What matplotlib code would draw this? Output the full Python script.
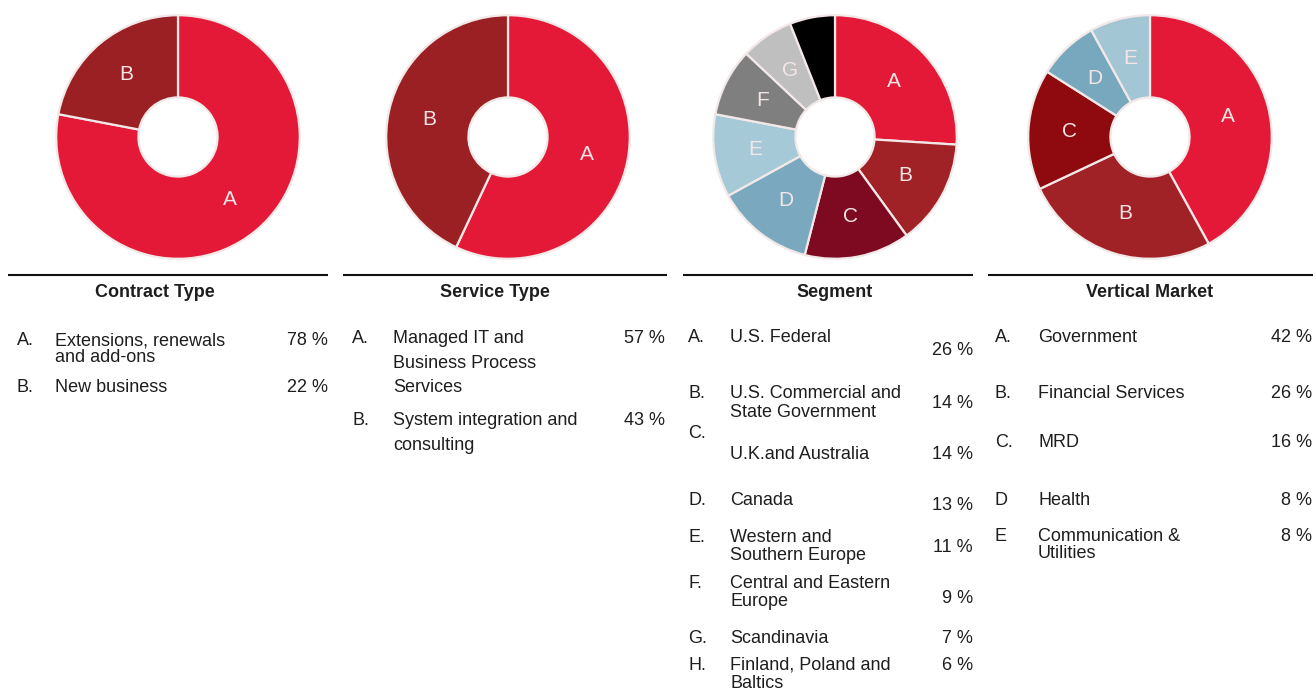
import matplotlib
matplotlib.use("Agg")
import matplotlib.pyplot as plt

# ---------------------------------------------------------------
# Data
#
contract_letters = ["A.", "B."]
contract_names = ["Extensions, renewals\nand add-ons", "New business"]
contract_shares = [78, 22]
contract_colors = ["#E31937", "#9B2024"]

service_letters = ["A.", "B."]
service_names = ["Managed IT and\nBusiness Process\nServices", "System integration and\nconsulting"]
service_shares = [57, 43]
service_colors = ["#E31937", "#9B2024"]

segment_letters = ["A.", "B.", "C.", "D.", "E.", "F.", "G.", "H."]
segment_names = ["U.S. Federal", "U.S. Commercial and\nState Government", "U.K.and Australia",
                 "Canada", "Western and\nSouthern Europe", "Central and Eastern\nEurope",
                 "Scandinavia", "Finland, Poland and\nBaltics"]
segment_shares = [26, 14, 14, 13, 11, 9, 7, 6]
segment_wedge_labels = ["A", "B", "C", "D", "E", "F", "G", ""]
segment_colors = ["#E31937", "#A02226", "#7E0A22", "#7AA9BF", "#A6C9D7", "#7F7F7F", "#BFBFBF", "#000000"]

vertical_letters = ["A.", "B.", "C.", "D", "E"]
vertical_names = ["Government", "Financial Services", "MRD", "Health", "Communication &\nUtilities"]
vertical_shares = [42, 26, 16, 8, 8]
vertical_colors = ["#E31937", "#A02226", "#8E0A0E", "#78A8BD", "#A3C6D5"]

titles = ["Contract Type", "Service Type", "Segment", "Vertical Market"]

# ---------------------------------------------------------------
# Layout (pixels)
#
W, H = 1316, 691
donut_centers_x = [178, 508, 835, 1150]
donut_center_y = 137
donut_radius = 123
hole_fraction = 0.325

rule_spans = [(8, 328), (343, 667), (683, 973), (988, 1313)]
rule_y = 275
title_x = [155, 495, 835, 1150]
title_y = 292

columns = [
    dict(letters=contract_letters, names=contract_names, shares=contract_shares,
         x_letter=17, x_text=55, x_pct=328, step=17,
         letter_base=[345, 392], text_base=[345, 392], pct_base=[345, 392]),
    dict(letters=service_letters, names=service_names, shares=service_shares,
         x_letter=352, x_text=393, x_pct=665, step=24.5,
         letter_base=[343, 425], text_base=[343, 425], pct_base=[343, 425]),
    dict(letters=segment_letters, names=segment_names, shares=segment_shares,
         x_letter=688, x_text=730, x_pct=973, step=18.5,
         letter_base=[342, 398, 438, 505, 542, 588, 643, 670],
         text_base=[342, 398, 459, 505, 542, 588, 643, 670],
         pct_base=[355, 408, 459, 510, 552, 603, 643, 670]),
    dict(letters=vertical_letters, names=vertical_names, shares=vertical_shares,
         x_letter=995, x_text=1038, x_pct=1312, step=17,
         letter_base=[342, 398, 447, 505, 541], text_base=[342, 398, 447, 505, 541],
         pct_base=[342, 398, 447, 505, 541]),
]

donuts = [
    (contract_shares, contract_colors, ["A", "B"]),
    (service_shares, service_colors, ["A", "B"]),
    (segment_shares, segment_colors, segment_wedge_labels),
    (vertical_shares, vertical_colors, ["A", "B", "C", "D", "E"]),
]

TEXT_FONT = ["Liberation Sans", "DejaVu Sans"]
LABEL_FONT = ["Liberation Sans Narrow", "Liberation Sans", "DejaVu Sans"]
TEXT_COLOR = "#1e1e1e"

plt.rcParams["font.family"] = TEXT_FONT

figure = plt.figure(figsize=(W / 100, H / 100), dpi=100)

###############################################################
# Donuts
#
for cx, (shares, colors, wedge_labels) in zip(donut_centers_x, donuts):
    r = donut_radius
    axe = figure.add_axes([(cx - r) / W, 1 - (donut_center_y + r) / H, 2 * r / W, 2 * r / H])
    wedges, texts = axe.pie(
        shares, colors=colors, labels=wedge_labels, startangle=90, counterclock=False,
        radius=1.0, labeldistance=(1 + hole_fraction) / 2,
        wedgeprops=dict(width=1 - hole_fraction, edgecolor="#f3e8e8", linewidth=1.6),
        textprops=dict(color="#f4e6e6", fontsize=15, family=LABEL_FONT),
    )
    for t in texts:
        t.set_horizontalalignment("center")
        t.set_verticalalignment("center")
    axe.set_xlim(-1.01, 1.01)
    axe.set_ylim(-1.01, 1.01)
    axe.set_aspect("equal")
    axe.axis("off")

###############################################################
# Legend tables
#
overlay = figure.add_axes([0, 0, 1, 1], xlim=[0, W], ylim=[H, 0], frameon=False)
overlay.set_xticks([])
overlay.set_yticks([])

for (x0, x1), tx, title in zip(rule_spans, title_x, titles):
    overlay.plot([x0, x1], [rule_y, rule_y], color="#111111", linewidth=1.5, solid_capstyle="butt")
    overlay.text(tx, title_y, title, ha="center", va="center", fontsize=13,
                 fontweight="bold", color=TEXT_COLOR)

for col in columns:
    for i, (letter, name, share) in enumerate(zip(col["letters"], col["names"], col["shares"])):
        overlay.text(col["x_letter"], col["letter_base"][i], letter, ha="left", va="baseline",
                     fontsize=13, color=TEXT_COLOR)
        for j, line in enumerate(name.split("\n")):
            overlay.text(col["x_text"], col["text_base"][i] + j * col["step"], line,
                         ha="left", va="baseline", fontsize=13, color=TEXT_COLOR)
        overlay.text(col["x_pct"], col["pct_base"][i], f"{share} %", ha="right", va="baseline",
                     fontsize=13, color=TEXT_COLOR)

plt.savefig("out.png", dpi=100)
